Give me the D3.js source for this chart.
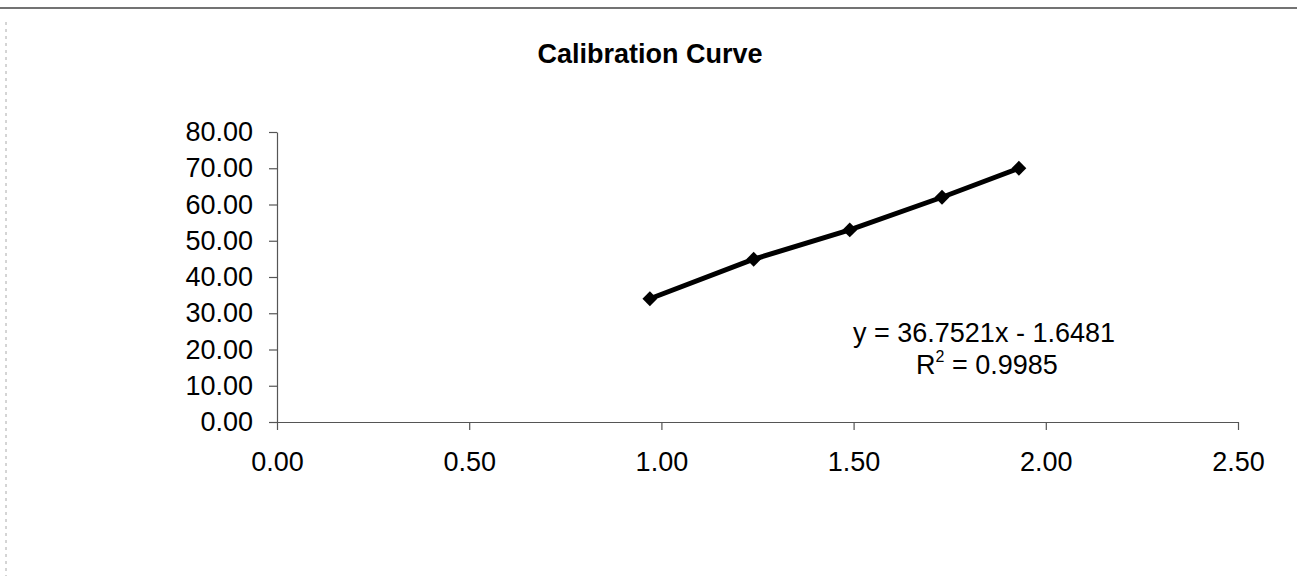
<!DOCTYPE html>
<html>
<head>
<meta charset="utf-8">
<script src="https://cdn.jsdelivr.net/npm/d3@7"></script>
<style>
  body { margin: 0; background: #fff; }
  text { font-family: "Liberation Sans", Arial, sans-serif; fill: #000; }
</style>
</head>
<body>
<div id="chart"></div>
<script>
// data
const concentration = [0.97, 1.24, 1.49, 1.73, 1.93];
const response = [34.0, 44.9, 53.0, 62.0, 70.0];
const xTicks = [0, 0.5, 1, 1.5, 2, 2.5];
const yTicks = [0, 10, 20, 30, 40, 50, 60, 70, 80];
const equationLines = ["y = 36.7521x - 1.6481", "R", " = 0.9985"];

// set the dimensions and margins of the graph
const margin = { top: 132, right: 59, bottom: 154, left: 277 },
  width = 1297 - margin.left - margin.right,
  height = 576 - margin.top - margin.bottom;

const root = d3
  .select("#chart")
  .append("svg")
  .attr("width", 1297)
  .attr("height", 576);

// page frame (top rule + faint left edge)
root.append("line")
  .attr("x1", 0).attr("x2", 1297)
  .attr("y1", 8).attr("y2", 8)
  .attr("stroke", "#444")
  .attr("stroke-width", 1.5);
root.append("line")
  .attr("x1", 6).attr("x2", 6)
  .attr("y1", 22).attr("y2", 576)
  .attr("stroke", "#aaa")
  .attr("stroke-width", 1)
  .attr("stroke-dasharray", "3,4");

// title
root.append("text")
  .attr("x", 650)
  .attr("y", 63)
  .attr("text-anchor", "middle")
  .style("font-size", "27px")
  .style("font-weight", "bold")
  .text("Calibration Curve");

const svg = root.append("g")
  .attr("transform", `translate(${margin.left},${margin.top})`);

const x = d3.scaleLinear().domain([0, 2.5]).range([0, width]);
const y = d3.scaleLinear().domain([0, 80]).range([height, 0]);

// Y axis
const yAxis = svg.append("g")
  .call(d3.axisLeft(y).tickValues(yTicks).tickFormat(d3.format(".2f"))
    .tickSize(8).tickSizeOuter(0).tickPadding(16));

// X axis
const xAxis = svg.append("g")
  .attr("transform", `translate(0, ${height})`)
  .call(d3.axisBottom(x).tickValues(xTicks).tickFormat(d3.format(".2f"))
    .tickSize(8).tickSizeOuter(0).tickPadding(22));

[xAxis, yAxis].forEach(function (a) {
  a.selectAll("path, line").attr("stroke", "#555").attr("stroke-width", 1.2);
  a.selectAll("text").style("font-size", "27px").attr("fill", "#000");
});

const points = concentration.map(function (c, i) {
  return { x: c, y: response[i] };
});

// the line
svg.append("path")
  .datum(points)
  .attr("fill", "none")
  .attr("stroke", "#000")
  .attr("stroke-width", 5)
  .attr("d", d3.line()
    .x(function (d) { return x(d.x); })
    .y(function (d) { return y(d.y); }));

// diamond markers
svg.selectAll(".pt")
  .data(points)
  .join("path")
  .attr("class", "pt")
  .attr("transform", function (d) { return `translate(${x(d.x)},${y(d.y)})`; })
  .attr("d", d3.symbol().type(d3.symbolDiamond2).size(140))
  .attr("fill", "#000");

// trendline label
root.append("text")
  .attr("x", 984)
  .attr("y", 342)
  .attr("text-anchor", "middle")
  .style("font-size", "27px")
  .text(equationLines[0]);

const r2 = root.append("text")
  .attr("x", 987)
  .attr("y", 374)
  .attr("text-anchor", "middle")
  .style("font-size", "27px");
r2.append("tspan").text(equationLines[1]);
r2.append("tspan").attr("dy", -12).style("font-size", "16px").text("2");
r2.append("tspan").attr("dy", 12).text(equationLines[2]);
</script>
</body>
</html>
